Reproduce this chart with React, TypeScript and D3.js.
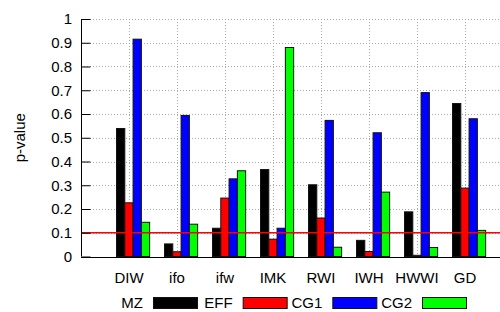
import React, { useRef, useEffect } from "react";
import * as d3 from "d3";

const categories = ["DIW", "ifo", "ifw", "IMK", "RWI", "IWH", "HWWI", "GD"];
const seriesNames = ["MZ", "EFF", "CG1", "CG2"];
const seriesColors = ["#000000", "#ff0000", "#0000ff", "#00ff00"];
const mzValues = [0.539, 0.053, 0.119, 0.366, 0.302, 0.068, 0.188, 0.644];
const effValues = [0.226, 0.02, 0.246, 0.073, 0.162, 0.021, 0.005, 0.288];
const cg1Values = [0.915, 0.594, 0.327, 0.119, 0.573, 0.521, 0.69, 0.58];
const cg2Values = [0.144, 0.136, 0.361, 0.88, 0.039, 0.271, 0.038, 0.11];
const yTicks = [0, 0.1, 0.2, 0.3, 0.4, 0.5, 0.6, 0.7, 0.8, 0.9, 1];
const threshold = 0.1;

const App = () => {
  const svgRef = useRef(null);

  useEffect(() => {
    const width = 500;
    const height = 312;
    const margin = { top: 19, right: 0, bottom: 56, left: 81 };
    const font = "'Liberation Sans', Arial, sans-serif";

    const svg = d3
      .select(svgRef.current)
      .attr("width", width)
      .attr("height", height)
      .style("display", "block")
      .style("background", "#fff");
    svg.selectAll("*").remove();

    const allSeries = [mzValues, effValues, cg1Values, cg2Values];

    // Category positions 1..8 on a linear axis
    const x = d3.scaleLinear().domain([0, 8.75]).range([margin.left, 501]);
    const y = d3
      .scaleLinear()
      .domain([0, 1])
      .range([height - margin.bottom + 0.5, margin.top]);

    // offset of each series inside a group (in category units)
    const inner = d3.scaleBand().domain(seriesNames).range([-0.26, 0.43]).padding(0);

    // Grid
    const grid = svg.append("g").attr("stroke", "#aaa").attr("stroke-dasharray", "1,2");
    grid
      .selectAll("line.h")
      .data(yTicks.slice(1))
      .enter()
      .append("line")
      .attr("x1", margin.left)
      .attr("x2", width)
      .attr("y1", (d) => Math.round(y(d)) + 0.5)
      .attr("y2", (d) => Math.round(y(d)) + 0.5);
    grid
      .selectAll("line.v")
      .data(categories)
      .enter()
      .append("line")
      .attr("x1", (d, i) => Math.round(x(i + 1)) + 0.5)
      .attr("x2", (d, i) => Math.round(x(i + 1)) + 0.5)
      .attr("y1", y(1))
      .attr("y2", y(0));

    // Bars
    allSeries.forEach((vals, s) => {
      svg
        .append("g")
        .selectAll("rect")
        .data(vals)
        .enter()
        .append("rect")
        .attr("x", (d, i) => x(i + 1 + inner(seriesNames[s])))
        .attr("y", (d) => y(d))
        .attr("width", x(inner.bandwidth()) - x(0))
        .attr("height", (d) => y(0) - y(d))
        .attr("fill", seriesColors[s])
        .attr("stroke", "#111")
        .attr("stroke-width", 1);
    });

    // Threshold line
    svg
      .append("line")
      .attr("x1", margin.left)
      .attr("x2", width)
      .attr("y1", y(threshold))
      .attr("y2", y(threshold))
      .attr("stroke", "#ff0000")
      .attr("stroke-width", 1.5);

    // Axes
    svg
      .append("line")
      .attr("x1", margin.left + 0.5)
      .attr("x2", margin.left + 0.5)
      .attr("y1", y(1))
      .attr("y2", y(0))
      .attr("stroke", "#000");
    svg
      .append("line")
      .attr("x1", margin.left)
      .attr("x2", width)
      .attr("y1", Math.round(y(0)) + 0.5)
      .attr("y2", Math.round(y(0)) + 0.5)
      .attr("stroke", "#000");

    const yAxis = svg
      .append("g")
      .attr("transform", `translate(${margin.left + 0.5},0)`)
      .call(
        d3
          .axisRight(y)
          .tickValues(yTicks)
          .tickSize(9)
          .tickFormat(() => "")
      );
    yAxis.select(".domain").remove();

    svg
      .append("g")
      .selectAll("text")
      .data(yTicks)
      .enter()
      .append("text")
      .attr("x", margin.left - 9)
      .attr("y", (d) => y(d))
      .attr("dy", "0.35em")
      .attr("text-anchor", "end")
      .style("font-family", font)
      .style("font-size", "15px")
      .text((d) => d3.format("~g")(d));

    // Category labels
    svg
      .append("g")
      .selectAll("text")
      .data(categories)
      .enter()
      .append("text")
      .attr("x", (d, i) => x(i + 1))
      .attr("y", 283)
      .attr("text-anchor", "middle")
      .style("font-family", font)
      .style("font-size", "15px")
      .text((d) => d);

    // Y label
    svg
      .append("text")
      .attr("transform", `translate(25,${(y(0) + y(1)) / 2}) rotate(-90)`)
      .attr("text-anchor", "middle")
      .style("font-family", font)
      .style("font-size", "15px")
      .text("p-value");

    // Legend
    const legendX = d3.scaleLinear().domain([0, 3]).range([153, 422]);
    const legend = svg
      .append("g")
      .selectAll("g")
      .data(seriesNames)
      .enter()
      .append("g")
      .attr("transform", (d, i) => `translate(${legendX(i)},297)`);
    legend
      .append("rect")
      .attr("x", 0.5)
      .attr("y", 0.5)
      .attr("width", 44)
      .attr("height", 11)
      .attr("fill", (d, i) => seriesColors[i])
      .attr("stroke", "#111");
    legend
      .append("text")
      .attr("x", -10)
      .attr("y", 11)
      .attr("text-anchor", "end")
      .style("font-family", font)
      .style("font-size", "15px")
      .text((d) => d);
  }, []);

  return <svg ref={svgRef} style={{ position: "absolute", left: 0, top: 0 }}></svg>;
};

export default App;
